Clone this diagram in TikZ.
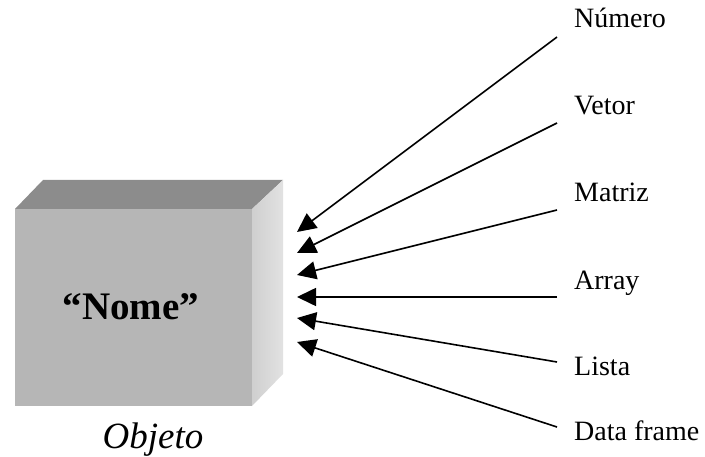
\documentclass[tikz,border=0pt]{standalone}
\usepackage{fontspec}
\setmainfont{Liberation Serif}
\usetikzlibrary{arrows.meta}
\definecolor{frontgray}{HTML}{B6B6B6}
\definecolor{topgray}{HTML}{8C8C8C}
\definecolor{sidegrayA}{HTML}{CFCFCF}
\definecolor{sidegrayB}{HTML}{E2E2E2}
\tikzset{
  conn/.style={line width=1.6pt, -{Triangle[length=19pt,width=18pt]}},
  lbl/.style={anchor=base west, inner sep=0pt, font=\fontsize{28}{30}\selectfont},
}
\begin{document}
\begin{tikzpicture}[x=1pt,y=-1pt]
\useasboundingbox (0,0) rectangle (705,457);
% box
\fill[topgray] (15,209) -- (43,180) -- (283,180) -- (252,209) -- cycle;
\shade[left color=sidegrayA, right color=sidegrayB] (252,209) -- (283,180) -- (283,374) -- (252,406) -- cycle;
\fill[frontgray] (15,209) rectangle (252,406);
\node[anchor=base, inner sep=0pt, font=\fontsize{39}{42}\selectfont\bfseries] (nome) at (131,320) {“Nome”};
\node[anchor=base, inner sep=0pt, font=\fontsize{37}{40}\selectfont\itshape] (objeto) at (153,449) {Objeto};
% labels
\node[lbl] (l1) at (574,28) {Número};
\node[lbl] (l2) at (574,115) {Vetor};
\node[lbl] (l3) at (574,202) {Matriz};
\node[lbl] (l4) at (574,290) {Array};
\node[lbl] (l5) at (574,376) {Lista};
\node[lbl] (l6) at (574,440) {Data frame};
% connector ends
\coordinate (s1) at (557,37);
\coordinate (s2) at (557,123);
\coordinate (s3) at (557,210);
\coordinate (s4) at (557,297);
\coordinate (s5) at (557,362);
\coordinate (s6) at (557,427);
\coordinate (t1) at (297,232);
\coordinate (t2) at (297,253);
\coordinate (t3) at (297,275);
\coordinate (t4) at (297,297);
\coordinate (t5) at (297,318);
\coordinate (t6) at (297,342);
\foreach \i in {1,...,6} {\draw[conn] (s\i) -- (t\i);}
\end{tikzpicture}
\end{document}
